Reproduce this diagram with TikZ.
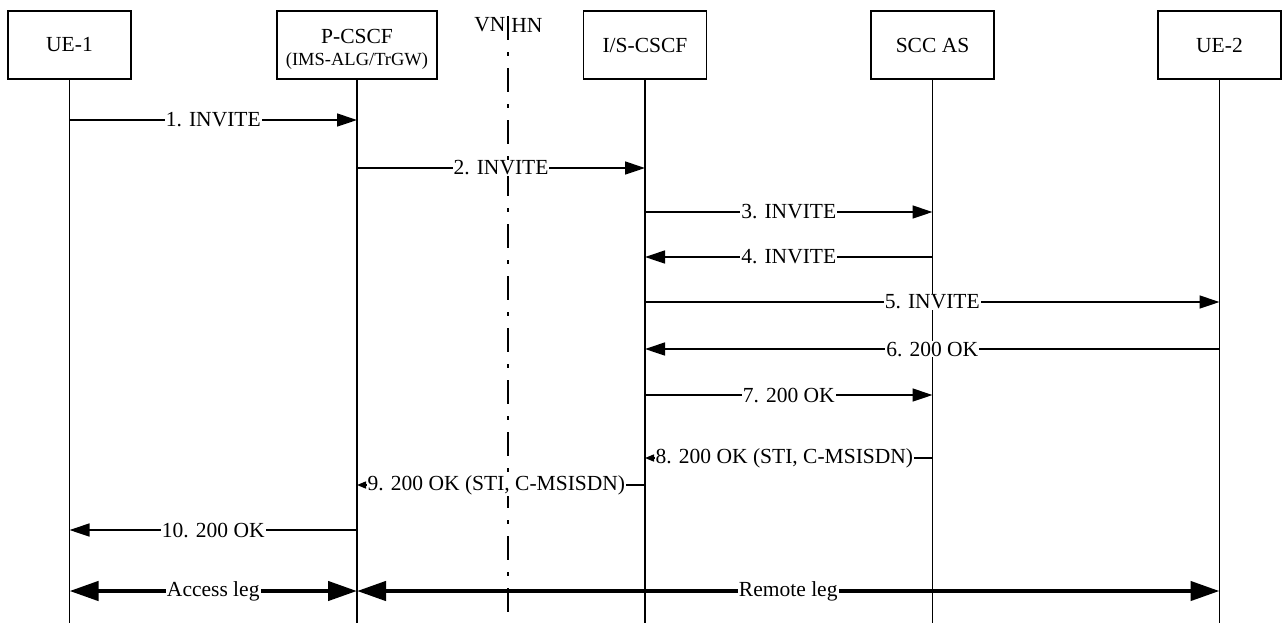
\documentclass[tikz,border=0pt]{standalone}
\usepackage{fontspec}
\setmainfont{Liberation Serif}
\usetikzlibrary{arrows.meta}

\begin{document}
\begin{tikzpicture}[x=0.5pt,y=-0.5pt,
        font=\fontsize{10.75}{12}\selectfont,
        entity/.style={draw, line width=0.6pt, minimum width=61.5pt, minimum height=34pt, inner sep=0pt, align=center},
        life/.style={line width=0.7pt},
        msg/.style={line width=0.7pt, -{Triangle[length=10pt,width=6.5pt]}},
        smallmsg/.style={line width=0.7pt, -{Triangle[length=4.5pt,width=3.5pt]}},
        leg/.style={line width=2.2pt, {Triangle[length=14.5pt,width=9.5pt]}-{Triangle[length=14.5pt,width=9.5pt]}},
        lbl/.style={fill=white, inner sep=0.5pt}]
        \useasboundingbox (0,0) rectangle (1282,623);
        % entities
        \node[entity] (ue1) at (69.5,45) {UE-1};
        \node[entity, minimum width=80pt] (pcscf) at (357,45) {};
        \node[align=center, inner sep=0pt] (pcscf-name) at (357,49) {P-CSCF\\[-1pt]{\fontsize{9.25}{11}\selectfont(IMS-ALG/TrGW)}};
        \node[entity] (iscscf) at (645,45) {I/S-CSCF};
        \node[entity] (scc) at (932.5,45) {SCC AS};
        \node[entity] (ue2) at (1219.5,45) {UE-2};
        % lifelines
        \foreach \e in {ue1,pcscf,iscscf,scc,ue2}
            \draw[life] (\e.south) -- (\e.south |- 0,623);
        % VN / HN border
        \coordinate (border-top) at (508,16);
        \coordinate (border-bot) at (508,623);
        \draw[line width=0.7pt, dash pattern=on 12pt off 6pt on 2pt off 6pt] (border-top) -- (border-bot);
        \node (vn) at (490,25) {VN};
        \node (hn) at (527,25) {HN};
        % points on the lifelines
        \foreach \n/\y in {1/120, 2/168, 3/212, 4/257, 5/302, 6/349, 7/395, 8/458, 9/485, 10/530, 11/591}
            \foreach \e in {ue1,pcscf,iscscf,scc,ue2}
                \coordinate (\e-\n) at (\e.south |- 0,\y);
        % messages
        \draw[msg] (ue1-1) -- node[lbl] {1. INVITE} (pcscf-1);
        \draw[msg] (pcscf-2) -- node[lbl] {2. INVITE} (iscscf-2);
        \draw[msg] (iscscf-3) -- node[lbl] {3. INVITE} (scc-3);
        \draw[msg] (scc-4) -- node[lbl] {4. INVITE} (iscscf-4);
        \draw[msg] (iscscf-5) -- node[lbl] {5. INVITE} (ue2-5);
        \draw[msg] (ue2-6) -- node[lbl] {6. 200 OK} (iscscf-6);
        \draw[msg] (iscscf-7) -- node[lbl] {7. 200 OK} (scc-7);
        \draw[smallmsg] (scc-8) -- node[lbl, pos=1, anchor=west, xshift=4.5pt] {8. 200 OK (STI, C-MSISDN)} (iscscf-8);
        \draw[smallmsg] (iscscf-9) -- node[lbl, pos=1, anchor=west, xshift=4.5pt] {9. 200 OK (STI, C-MSISDN)} (pcscf-9);
        \draw[msg] (pcscf-10) -- node[lbl] {10. 200 OK} (ue1-10);
        % legs
        \draw[leg] (ue1-11) -- node[lbl] {Access leg} (pcscf-11);
        \draw[leg] (pcscf-11) -- node[lbl] {Remote leg} (ue2-11);
    \end{tikzpicture}
\end{document}
